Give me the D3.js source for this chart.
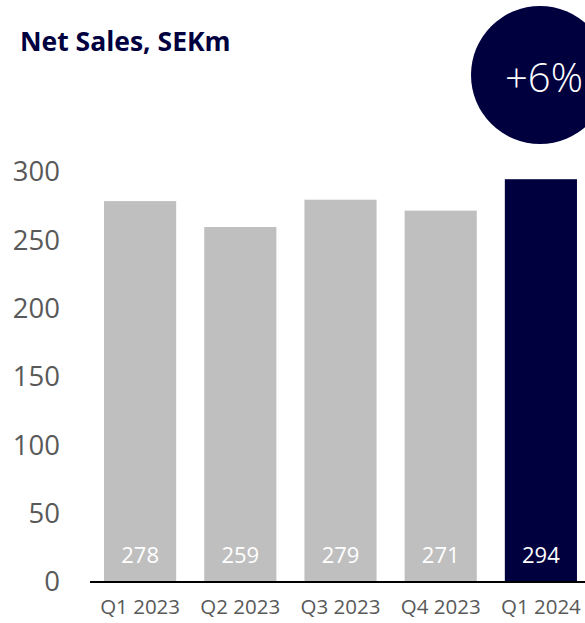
<!DOCTYPE html>
<html>
<head>
<meta charset="utf-8">
<script src="https://cdn.jsdelivr.net/npm/d3@7/dist/d3.min.js"></script>
<style>
  html, body { margin: 0; padding: 0; background: #fff; }
  svg { display: block; font-family: "Open Sans", sans-serif; }
</style>
</head>
<body>
<svg id="chart" width="585" height="623"></svg>
<script>
// Quarterly net sales, SEKm
const categories = ["Q1 2023", "Q2 2023", "Q3 2023", "Q4 2023", "Q1 2024"];
const netSales = [278, 259, 279, 271, 294];
const yTicks = [0, 50, 100, 150, 200, 250, 300];
const growthLabel = "+6%";
const titleText = "Net Sales, SEKm";

const navy = "#00003f";
const grey = "#bfbfbf";
const tickGrey = "#595959";

const svg = d3.select("#chart");

const x = d3.scaleBand()
  .domain(categories)
  .range([90, 591])
  .paddingInner(0.28)
  .paddingOuter(0.14);

const y = d3.scaleLinear()
  .domain([0, 300])
  .range([581, 171]);

// Title
svg.append("text")
  .attr("x", 20)
  .attr("y", 51)
  .attr("fill", navy)
  .attr("font-weight", 700)
  .attr("font-size", 26.5)
  .text(titleText);

// Growth badge
svg.append("circle")
  .attr("cx", 540)
  .attr("cy", 75)
  .attr("r", 69)
  .attr("fill", navy);
svg.append("text")
  .attr("x", 544)
  .attr("y", 92)
  .attr("text-anchor", "middle")
  .attr("fill", "#fff")
  .attr("font-weight", 300)
  .attr("font-size", 40)
  .text(growthLabel);

// Y axis labels (no line, no ticks)
const yAxis = d3.axisLeft(y).tickValues(yTicks).tickSize(0).tickPadding(0);
const yg = svg.append("g").attr("transform", "translate(60,0)").call(yAxis);
yg.select(".domain").remove();
yg.selectAll("text")
  .attr("fill", tickGrey)
  .attr("font-size", 27.5)
  .attr("font-family", "Open Sans, sans-serif")
  .attr("dy", "0.36em");

// Bars
const bars = svg.append("g");
bars.selectAll("rect")
  .data(categories)
  .join("rect")
  .attr("x", d => x(d))
  .attr("width", x.bandwidth())
  .attr("y", (d, i) => y(netSales[i]))
  .attr("height", (d, i) => y(0) - y(netSales[i]))
  .attr("fill", (d, i) => i === categories.length - 1 ? navy : grey);

// Value labels inside bars
bars.selectAll("text")
  .data(categories)
  .join("text")
  .attr("x", d => x(d) + x.bandwidth() / 2)
  .attr("y", 563)
  .attr("text-anchor", "middle")
  .attr("fill", "#fff")
  .attr("font-size", 22)
  .text((d, i) => netSales[i]);

// X axis
const xAxis = d3.axisBottom(x).tickSize(0).tickPadding(18);
const xg = svg.append("g").attr("transform", `translate(0,${y(0)})`).call(xAxis);
xg.select(".domain").remove();
xg.selectAll("text")
  .attr("fill", tickGrey)
  .attr("font-size", 20.5)
  .attr("font-family", "Open Sans, sans-serif");

svg.append("line")
  .attr("x1", 90).attr("x2", 585)
  .attr("y1", 582).attr("y2", 582)
  .attr("stroke", "#000")
  .attr("stroke-width", 2);
</script>
</body>
</html>
